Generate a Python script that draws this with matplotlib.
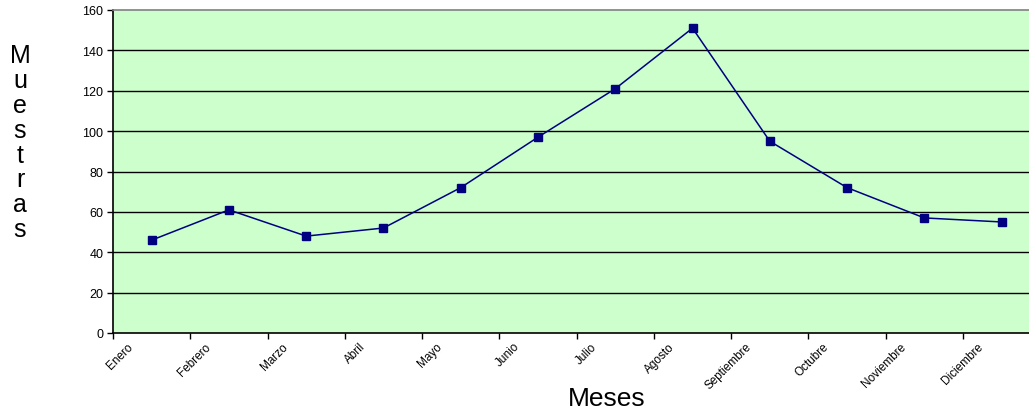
import matplotlib
matplotlib.use("Agg")
import matplotlib.pyplot as plt

# data
meses = ["Enero", "Febrero", "Marzo", "Abril", "Mayo", "Junio", "Julio",
         "Agosto", "Septiembre", "Octubre", "Noviembre", "Diciembre"]
muestras = [46, 61, 48, 52, 72, 97, 121, 151, 95, 72, 57, 55]
y_ticks = [0, 20, 40, 60, 80, 100, 120, 140, 160]

plt.rcParams['font.family'] = ['Liberation Sans', 'DejaVu Sans']

W, H = 1029, 410
fig = plt.figure(figsize=(W / 100, H / 100), dpi=100, facecolor='white')
# plot area in pixels: x 113..1029, y 11..334
ax = fig.add_axes([113 / W, (H - 334) / H, (W - 113) / W, (334 - 11) / H])
ax.set_facecolor('#CCFFCC')

step = 77.27
ax.set_xlim(0, (W - 113) / step)
ax.set_ylim(0, 160)

xs = [i + 0.5 for i in range(len(meses))]
ax.plot(xs, muestras, color='#000080', lw=1.1, marker='s', markersize=6,
        markerfacecolor='#000080', markeredgecolor='#000080', zorder=3)

# horizontal grid
for v in y_ticks[1:-1]:
    ax.axhline(v, color='black', lw=1.0, zorder=1)

ax.set_yticks(y_ticks)
ax.set_yticklabels([str(v) for v in y_ticks], fontsize=9)
ax.set_xticks(range(len(meses)))
ax.set_xticklabels([])
ax.tick_params(axis='both', direction='out', length=4, width=1, color='black')
ax.tick_params(axis='y', pad=3)

ax.spines['right'].set_visible(False)
ax.spines['top'].set_color('#808080')
ax.spines['top'].set_linewidth(1.2)
ax.spines['left'].set_linewidth(1.2)
ax.spines['bottom'].set_linewidth(1.2)

# rotated month labels, right end just past each tick
xt = ax.get_xaxis_transform()
for i, m in enumerate(meses):
    ax.text(i + 0.24, -0.035, m, transform=xt, rotation=45, rotation_mode='anchor',
            ha='right', va='center', fontsize=8.5, clip_on=False)

# vertical stacked y label
for k, ch in enumerate("Muestras"):
    fig.text(20 / W, 1 - (56 + k * 24.9) / H, ch, ha='center', va='center', fontsize=18)

fig.text(607 / W, 1 - 406 / H, "Meses", ha='center', va='baseline', fontsize=19)

fig.savefig("out.png", dpi=100, facecolor='white')
